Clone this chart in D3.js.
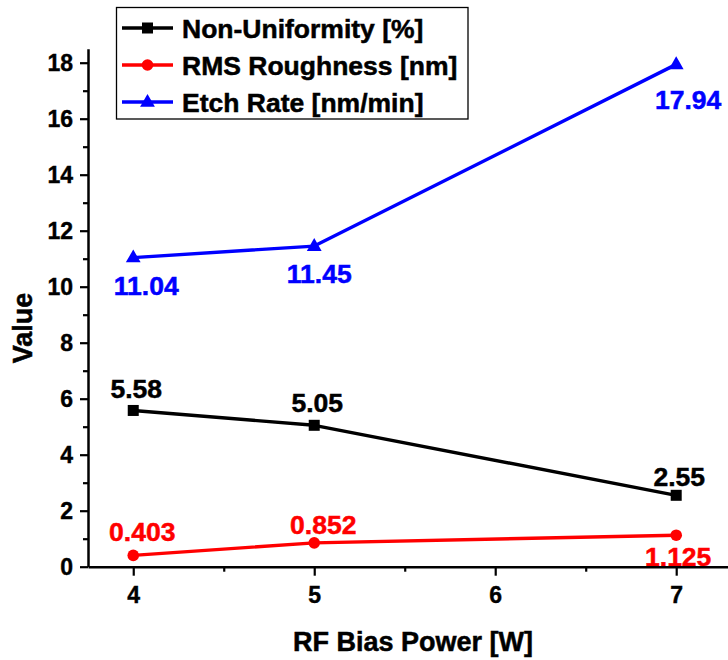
<!DOCTYPE html>
<html>
<head>
<meta charset="utf-8">
<script src="https://cdn.jsdelivr.net/npm/d3@7"></script>
<style>
  html, body { margin: 0; padding: 0; background: #fff; }
  svg { display: block; font-family: "Liberation Sans", Arial, sans-serif; font-weight: bold; }
</style>
</head>
<body>
<svg id="chart" width="728" height="660"></svg>
<script>
// ---- data ----
const xValues = [4, 5, 7];
const nonUniformity = [5.58, 5.05, 2.55];
const rmsRoughness = [0.403, 0.852, 1.125];
const etchRate = [11.04, 11.45, 17.94];
const nonUniformityLabels = ["5.58", "5.05", "2.55"];
const rmsLabels = ["0.403", "0.852", "1.125"];
const etchLabels = ["11.04", "11.45", "17.94"];
const seriesNames = ["Non-Uniformity [%]", "RMS Roughness [nm]", "Etch Rate [nm/min]"];
const xTicks = [4, 5, 6, 7];
const xMinorTicks = [4.5, 5.5, 6.5];
const yTicks = [0, 2, 4, 6, 8, 10, 12, 14, 16, 18];
const yMinorTicks = [1, 3, 5, 7, 9, 11, 13, 15, 17];
const xTitle = "RF Bias Power [W]";
const yTitle = "Value";

// ---- layout ----
const svg = d3.select("#chart");
const x = d3.scaleLinear().domain([3.75, 7.3]).range([88, 730.5]);
const y = d3.scaleLinear().domain([0, 18.5]).range([566.7, 48.7]);

const series = [
  { name: seriesNames[0], values: nonUniformity, labels: nonUniformityLabels, color: "#000000", marker: "square",
    labelOff: [[3, -12], [3, -13], [3, -9]] },
  { name: seriesNames[1], values: rmsRoughness, labels: rmsLabels, color: "#ff0000", marker: "circle",
    labelOff: [[9, -14], [9, -9], [2, 31]] },
  { name: seriesNames[2], values: etchRate, labels: etchLabels, color: "#0000ff", marker: "triangle",
    labelOff: [[13, 37], [5, 37], [12, 45]] }
];

function drawMarker(g, type, cx, cy, color) {
  if (type === "square") {
    g.append("rect").attr("x", cx - 5.5).attr("y", cy - 5.5).attr("width", 11).attr("height", 11).attr("fill", color);
  } else if (type === "circle") {
    g.append("circle").attr("cx", cx).attr("cy", cy).attr("r", 5.8).attr("fill", color);
  } else {
    g.append("path").attr("d", d3.symbol().type(d3.symbolTriangle).size(95)()).attr("transform", `translate(${cx},${cy + 0.5})`).attr("fill", color);
  }
}

// ---- lines and markers ----
const line = d3.line().x((d, i) => x(xValues[i])).y(d => y(d));
series.forEach(s => {
  svg.append("path").datum(s.values).attr("d", line).attr("fill", "none")
    .attr("stroke", s.color).attr("stroke-width", 3.4).attr("stroke-linejoin", "round");
  const g = svg.append("g");
  s.values.forEach((v, i) => drawMarker(g, s.marker, x(xValues[i]), y(v), s.color));
});

// ---- value labels ----
series.forEach(s => {
  svg.append("g").selectAll("text").data(s.values).join("text")
    .attr("x", (d, i) => x(xValues[i]) + s.labelOff[i][0])
    .attr("y", (d, i) => y(d) + s.labelOff[i][1])
    .attr("text-anchor", "middle")
    .attr("font-size", "26.5px")
    .attr("fill", s.color).attr("stroke", s.color).attr("stroke-width", 0.5)
    .text((d, i) => s.labels[i]);
});

// ---- axes ----
svg.append("g").attr("transform", "translate(0,566.7)")
  .call(d3.axisBottom(x).tickValues(xTicks).tickFormat(d3.format("d")).tickSize(9).tickPadding(11).tickSizeOuter(0));
svg.append("g").attr("transform", "translate(0,566.7)")
  .call(d3.axisBottom(x).tickValues(xMinorTicks).tickFormat("").tickSize(5).tickSizeOuter(0))
  .select(".domain").remove();
svg.append("g").attr("transform", "translate(88,0)")
  .call(d3.axisLeft(y).tickValues(yTicks).tickFormat(d3.format("d")).tickSize(8).tickPadding(7).tickSizeOuter(0));
svg.append("g").attr("transform", "translate(88,0)")
  .call(d3.axisLeft(y).tickValues(yMinorTicks).tickFormat("").tickSize(5).tickSizeOuter(0))
  .select(".domain").remove();

svg.selectAll(".domain").attr("stroke", "#000").attr("stroke-width", 2.5);
svg.selectAll(".tick line").attr("stroke", "#000").attr("stroke-width", 2.2);
svg.selectAll(".tick text").attr("font-size", "23px").attr("font-family", "Liberation Sans, Arial, sans-serif")
  .attr("font-weight", "bold").attr("fill", "#000").attr("stroke", "#000").attr("stroke-width", 0.4);

// ---- axis titles ----
svg.append("text").attr("x", 413).attr("y", 651).attr("text-anchor", "middle")
  .attr("font-size", "27px").attr("fill", "#000").attr("stroke", "#000").attr("stroke-width", 0.5).text(xTitle);
svg.append("text").attr("transform", "translate(32,328) rotate(-90)").attr("text-anchor", "middle")
  .attr("font-size", "27px").attr("fill", "#000").attr("stroke", "#000").attr("stroke-width", 0.5).text(yTitle);

// ---- legend ----
const legend = svg.append("g");
legend.append("rect").attr("x", 116.5).attr("y", 7.5).attr("width", 351.5).attr("height", 111.5)
  .attr("fill", "#fff").attr("stroke", "#000").attr("stroke-width", 1.3);
series.forEach((s, i) => {
  const cy = 28 + i * 37;
  legend.append("line").attr("x1", 122).attr("x2", 173).attr("y1", cy).attr("y2", cy)
    .attr("stroke", s.color).attr("stroke-width", 3.4);
  drawMarker(legend, s.marker, 147.5, cy, s.color);
  legend.append("text").attr("x", 182).attr("y", cy + 9.5).attr("font-size", "26.5px")
    .attr("fill", "#000").attr("stroke", "#000").attr("stroke-width", 0.5).text(s.name);
});
</script>
</body>
</html>
